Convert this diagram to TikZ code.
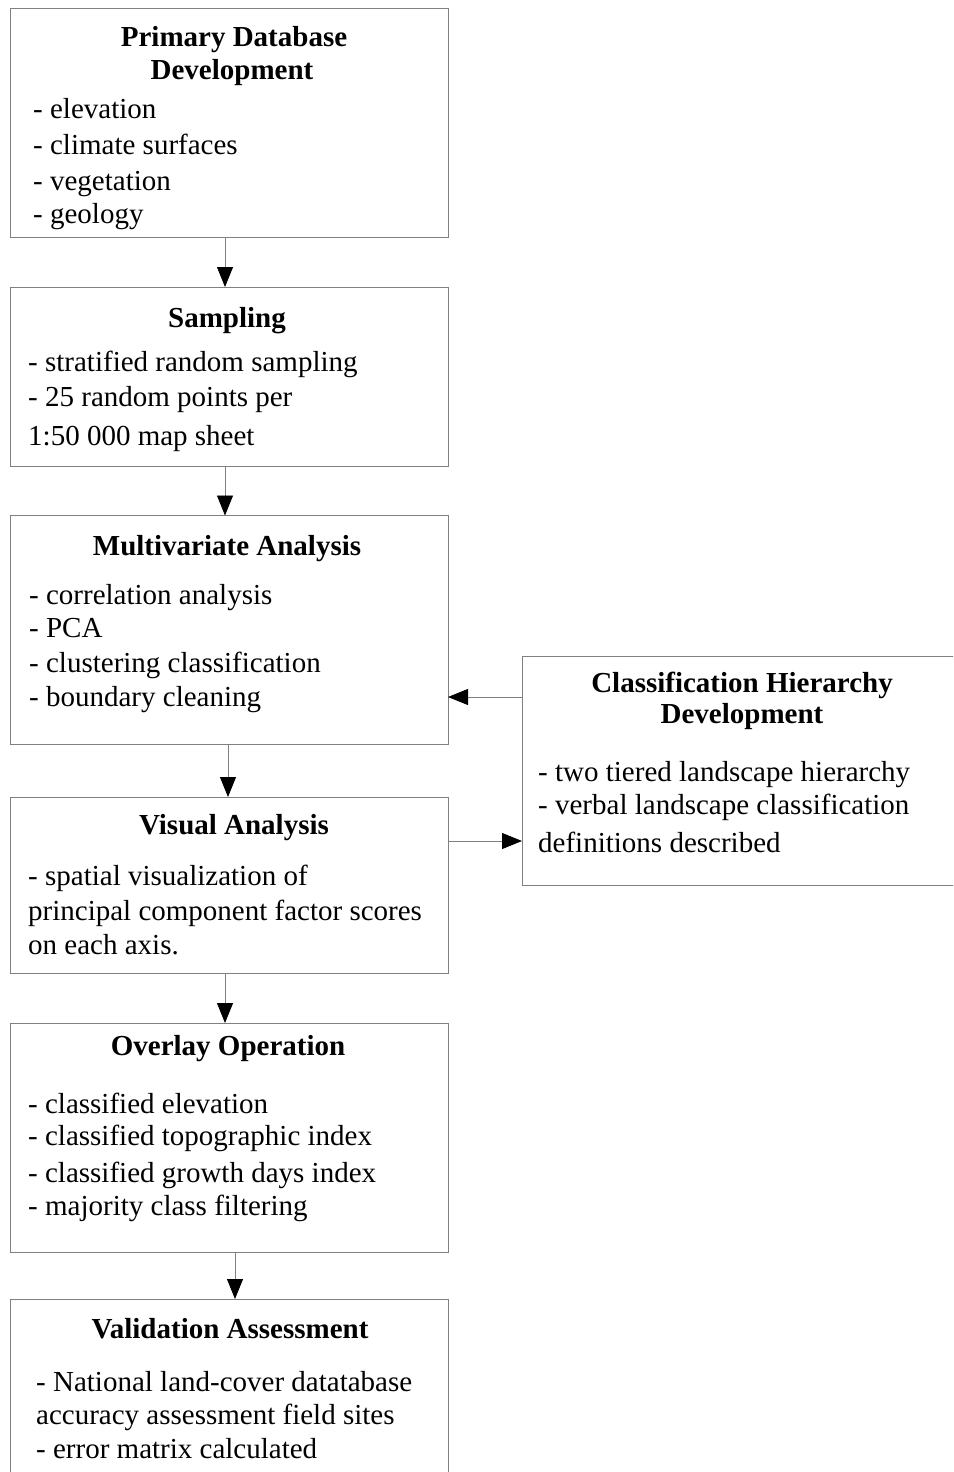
\documentclass[tikz,border=0pt]{standalone}
\usepackage{fontspec}
\setmainfont{Liberation Serif}
\usetikzlibrary{arrows.meta}
\begin{document}
\begin{tikzpicture}[x=1pt,y=-1pt,
  box/.style={draw=black!50, line width=0.9pt, rectangle, inner sep=0pt, outer sep=0pt, anchor=north west},
  ttl/.style={font=\bfseries\fontsize{29}{34}\selectfont, anchor=base, inner sep=0pt},
  txt/.style={font=\fontsize{29}{34}\selectfont, anchor=base west, inner sep=0pt},
  arr/.style={draw=black!50, line width=0.9pt, -{Triangle[length=20pt,width=16pt,black]}}]
\useasboundingbox (0,0) rectangle (953,1472);
\clip (0,0) rectangle (953,1472);
% boxes
\node[box, minimum width=438pt, minimum height=229pt] (b1) at (10,8) {};
\node[box, minimum width=438pt, minimum height=179pt] (b2) at (10,287) {};
\node[box, minimum width=438pt, minimum height=228.5pt] (b3) at (10,515.5) {};
\node[box, minimum width=438pt, minimum height=176.5pt] (b4) at (10,797) {};
\node[box, minimum width=438pt, minimum height=229pt] (b5) at (10,1023) {};
\node[box, minimum width=438pt, minimum height=190pt] (b6) at (10,1299) {};
\node[box, minimum width=440pt, minimum height=229pt] (rb) at (522,656) {};
% box 1
\node[ttl] (t1a) at (234,47) {Primary Database};
\node[ttl] (t1b) at (232,80) {Development};
\node[txt] (l1a) at (33,118) {- elevation};
\node[txt] (l1b) at (33,154) {- climate surfaces};
\node[txt] (l1c) at (33,190) {- vegetation};
\node[txt] (l1d) at (33,223) {- geology};
% box 2
\node[ttl] (t2) at (227,327) {Sampling};
\node[txt] (l2a) at (28,371) {- stratified random sampling};
\node[txt] (l2b) at (28,406) {- 25 random points per};
\node[txt] (l2c) at (28,445) {1:50 000 map sheet};
% box 3
\node[ttl] (t3) at (227,555) {Multivariate Analysis};
\node[txt] (l3a) at (29,604) {- correlation analysis};
\node[txt] (l3b) at (29,637) {- PCA};
\node[txt] (l3c) at (29,672) {- clustering classification};
\node[txt] (l3d) at (29,706) {- boundary cleaning};
% box 4
\node[ttl] (t4) at (234,834) {Visual Analysis};
\node[txt] (l4a) at (28,885) {- spatial visualization of};
\node[txt] (l4b) at (28,920) {principal component factor scores};
\node[txt] (l4c) at (28,954) {on each axis.};
% box 5
\node[ttl] (t5) at (228,1055) {Overlay Operation};
\node[txt] (l5a) at (28,1113) {- classified elevation};
\node[txt] (l5b) at (28,1145) {- classified topographic index};
\node[txt] (l5c) at (28,1182) {- classified growth days index};
\node[txt] (l5d) at (28,1215) {- majority class filtering};
% box 6
\node[ttl] (t6) at (230,1338) {Validation Assessment};
\node[txt] (l6a) at (36,1391) {- National land-cover datatabase};
\node[txt] (l6b) at (36,1424) {accuracy assessment field sites};
\node[txt] (l6c) at (36,1458) {- error matrix calculated};
% right box
\node[ttl] (tra) at (742,692) {Classification Hierarchy};
\node[ttl] (trb) at (742,723) {Development};
\node[txt] (lra) at (538,781) {- two tiered landscape hierarchy};
\node[txt] (lrb) at (538,814) {- verbal landscape classification};
\node[txt] (lrc) at (538,852) {definitions described};
% connectors
\draw[arr] ([xshift=-4pt]b1.south) -- ([xshift=-4pt]b2.north);
\draw[arr] ([xshift=-4pt]b2.south) -- ([xshift=-4pt]b3.north);
\draw[arr] ([xshift=-1pt]b3.south) -- ([xshift=-1pt]b4.north);
\draw[arr] ([xshift=-4pt]b4.south) -- ([xshift=-4pt]b5.north);
\draw[arr] ([xshift=6pt]b5.south) -- ([xshift=6pt]b6.north);
\draw[arr] ([yshift=73.5pt]rb.west) -- ([yshift=-67.25pt]b3.east);
\draw[arr] ([yshift=44.25pt]b4.east) -- ([yshift=-70.5pt]rb.west);
\end{tikzpicture}
\end{document}
